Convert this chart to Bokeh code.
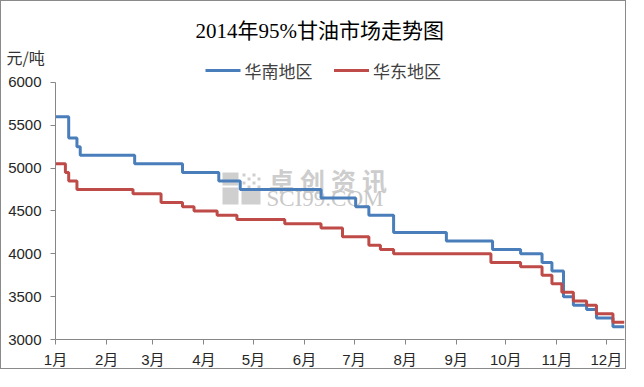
import pandas as pd
from bokeh.plotting import figure
from bokeh.models import Range1d, FixedTicker, Label, BoxAnnotation, Title
from bokeh.embed import file_html
from bokeh.resources import INLINE

TITLE = "2014年95%甘油市场走势图"
UNIT = "元/吨"
SERIES_NAMES = ["华南地区", "华东地区"]
MONTH_LABELS = ["1月", "2月", "3月", "4月", "5月", "6月", "7月", "8月", "9月", "10月", "11月", "12月"]
Y_TICKS = [3000, 3500, 4000, 4500, 5000, 5500, 6000]
START_DATE = "2014-01-01"
END_DATE = "2014-12-12"

# 华南地区 (price changes: date, new price)
SOUTH_DATES = ["2014-01-01", "2014-01-09", "2014-01-14", "2014-01-16", "2014-02-18",
               "2014-03-19", "2014-04-10", "2014-04-23", "2014-06-11", "2014-07-02",
               "2014-07-10", "2014-07-25", "2014-08-26", "2014-09-23", "2014-10-10",
               "2014-10-23", "2014-10-29", "2014-11-05", "2014-11-11", "2014-11-19",
               "2014-11-25", "2014-12-05"]
SOUTH_PRICES = [5600, 5350, 5250, 5150, 5050,
                4950, 4850, 4750, 4650, 4550,
                4450, 4250, 4150, 4050, 4000,
                3900, 3800, 3500, 3400, 3350,
                3250, 3150]

# 华东地区
EAST_DATES = ["2014-01-01", "2014-01-07", "2014-01-09", "2014-01-14", "2014-02-17",
              "2014-03-06", "2014-03-19", "2014-03-26", "2014-04-09", "2014-04-21",
              "2014-05-20", "2014-06-11", "2014-06-24", "2014-07-10", "2014-07-17",
              "2014-07-25", "2014-09-22", "2014-10-10", "2014-10-23", "2014-10-29",
              "2014-11-04", "2014-11-11", "2014-11-19", "2014-11-25", "2014-12-05"]
EAST_PRICES = [5050, 4950, 4850, 4750, 4700,
               4600, 4550, 4500, 4450, 4400,
               4350, 4300, 4200, 4100, 4050,
               4000, 3900, 3850, 3750, 3650,
               3550, 3450, 3400, 3300, 3200]

BLUE = "#4a7ebb"
RED = "#be4b48"
COLORS = [BLUE, RED]
AXIS = "#868686"
CJK = "Noto Sans CJK SC"
TICK_FONT = "Liberation Sans, Noto Sans CJK SC"

# layout (pixels): frame spans from the legend row down to the x axis
AXIS_PX = 258          # pixel height of the 3000..6000 span
LEGEND_ROW_PX = 21     # room above the top tick for the legend row
FRAME_H = AXIS_PX + LEGEND_ROW_PX
Y_END = Y_TICKS[-1] + LEGEND_ROW_PX * (Y_TICKS[-1] - Y_TICKS[0]) / AXIS_PX


def series(dates, prices):
    x = list(pd.to_datetime(dates)) + [pd.Timestamp(END_DATE)]
    y = list(prices) + [prices[-1]]
    return x, y


sx, sy = series(SOUTH_DATES, SOUTH_PRICES)
ex, ey = series(EAST_DATES, EAST_PRICES)

p = figure(width=626, height=369, x_axis_type="datetime", title=None,
           x_range=Range1d(pd.Timestamp(START_DATE), pd.Timestamp(END_DATE)),
           y_range=Range1d(Y_TICKS[0], Y_END),
           output_backend="svg", toolbar_location=None,
           min_border_left=54, min_border_right=3, min_border_top=60, min_border_bottom=30,
           styles={"border": "1px solid #8a8a8a"})
p.background_fill_color = "white"
p.border_fill_color = "white"
p.outline_line_color = None
p.xgrid.visible = False
p.ygrid.visible = False

month_starts = pd.date_range(START_DATE, periods=12, freq="MS")
month_ms = [float(t.value // 10**6) for t in month_starts]
p.xaxis.ticker = FixedTicker(ticks=month_ms)
p.xaxis.major_label_overrides = {m: lab for m, lab in zip(month_ms, MONTH_LABELS)}
p.yaxis.ticker = FixedTicker(ticks=Y_TICKS)
p.yaxis.bounds = (Y_TICKS[0], Y_TICKS[-1])

for ax in (p.xaxis, p.yaxis):
    ax.axis_line_color = AXIS
    ax.major_tick_line_color = AXIS
    ax.minor_tick_line_color = None
    ax.major_tick_out = 5
    ax.major_tick_in = 0
    ax.major_label_text_font = TICK_FONT
    ax.major_label_text_font_size = "15px"
    ax.major_label_text_color = "#262626"
p.yaxis.major_label_standoff = 9
p.xaxis.major_label_standoff = 6


def screen_box(l, r, t, b, color, level="underlay"):
    return BoxAnnotation(left=l, right=r, top=t, bottom=b,
                         left_units="screen", right_units="screen",
                         top_units="screen", bottom_units="screen",
                         fill_color=color, fill_alpha=1, line_color=None, level=level)


# watermark (underlay), positions relative to the plot frame
WM = "#cfcfcf"
for (l, r, t, b) in [(167, 183, 167, 154), (167, 183, 152, 135), (186, 205, 151, 135)]:
    p.add_layout(screen_box(l, r, t, b, WM))
for i in range(4):
    for j in range(4):
        if (i + j) % 2 == 0:
            x0 = 187 + i * 5
            y0 = 166 - j * 4
            p.add_layout(screen_box(x0, x0 + 3, y0, y0 - 3, WM))
for k, ch in enumerate("卓创资讯"):
    p.add_layout(Label(x=226 + k * 31, y=160, x_units="screen", y_units="screen", text=ch,
                       text_align="center", text_baseline="middle", text_font=CJK,
                       text_font_size="25px", text_font_style="bold", text_color="#cdcdcd",
                       level="underlay"))
p.add_layout(Label(x=211, y=141, x_units="screen", y_units="screen", text="SCI99.COM",
                   text_align="left", text_baseline="middle", text_font="Liberation Serif",
                   text_font_size="23px", text_color="#c8c8c8", level="underlay"))

r1 = p.step(x=sx, y=sy, mode="after", line_width=3, line_color=BLUE)
r2 = p.step(x=ex, y=ey, mode="after", line_width=3, line_color=RED)

# legend row (inside the frame's top strip)
LEG_Y = FRAME_H - 10
LEG_X = [150, 278.5]
for name, color, lx in zip(SERIES_NAMES, COLORS, LEG_X):
    p.add_layout(screen_box(lx, lx + 35, LEG_Y + 1.5, LEG_Y - 1.5, color, level="annotation"))
    p.add_layout(Label(x=lx + 39, y=LEG_Y, x_units="screen", y_units="screen", text=name,
                       text_align="left", text_baseline="middle", text_font=CJK,
                       text_font_size="17px", text_color="#404040"))

p.add_layout(Title(text=UNIT, align="left", offset=-49, standoff=-14,
                   text_font=CJK, text_font_size="16px", text_font_style="normal",
                   text_color="#333333"), "above")
p.add_layout(Title(text=TITLE, align="left", offset=140, standoff=14,
                   text_font="Liberation Serif, Noto Sans CJK SC", text_font_size="21px",
                   text_font_style="normal", text_color="#000000"), "above")

open("out.html", "w").write(file_html(p, INLINE))
